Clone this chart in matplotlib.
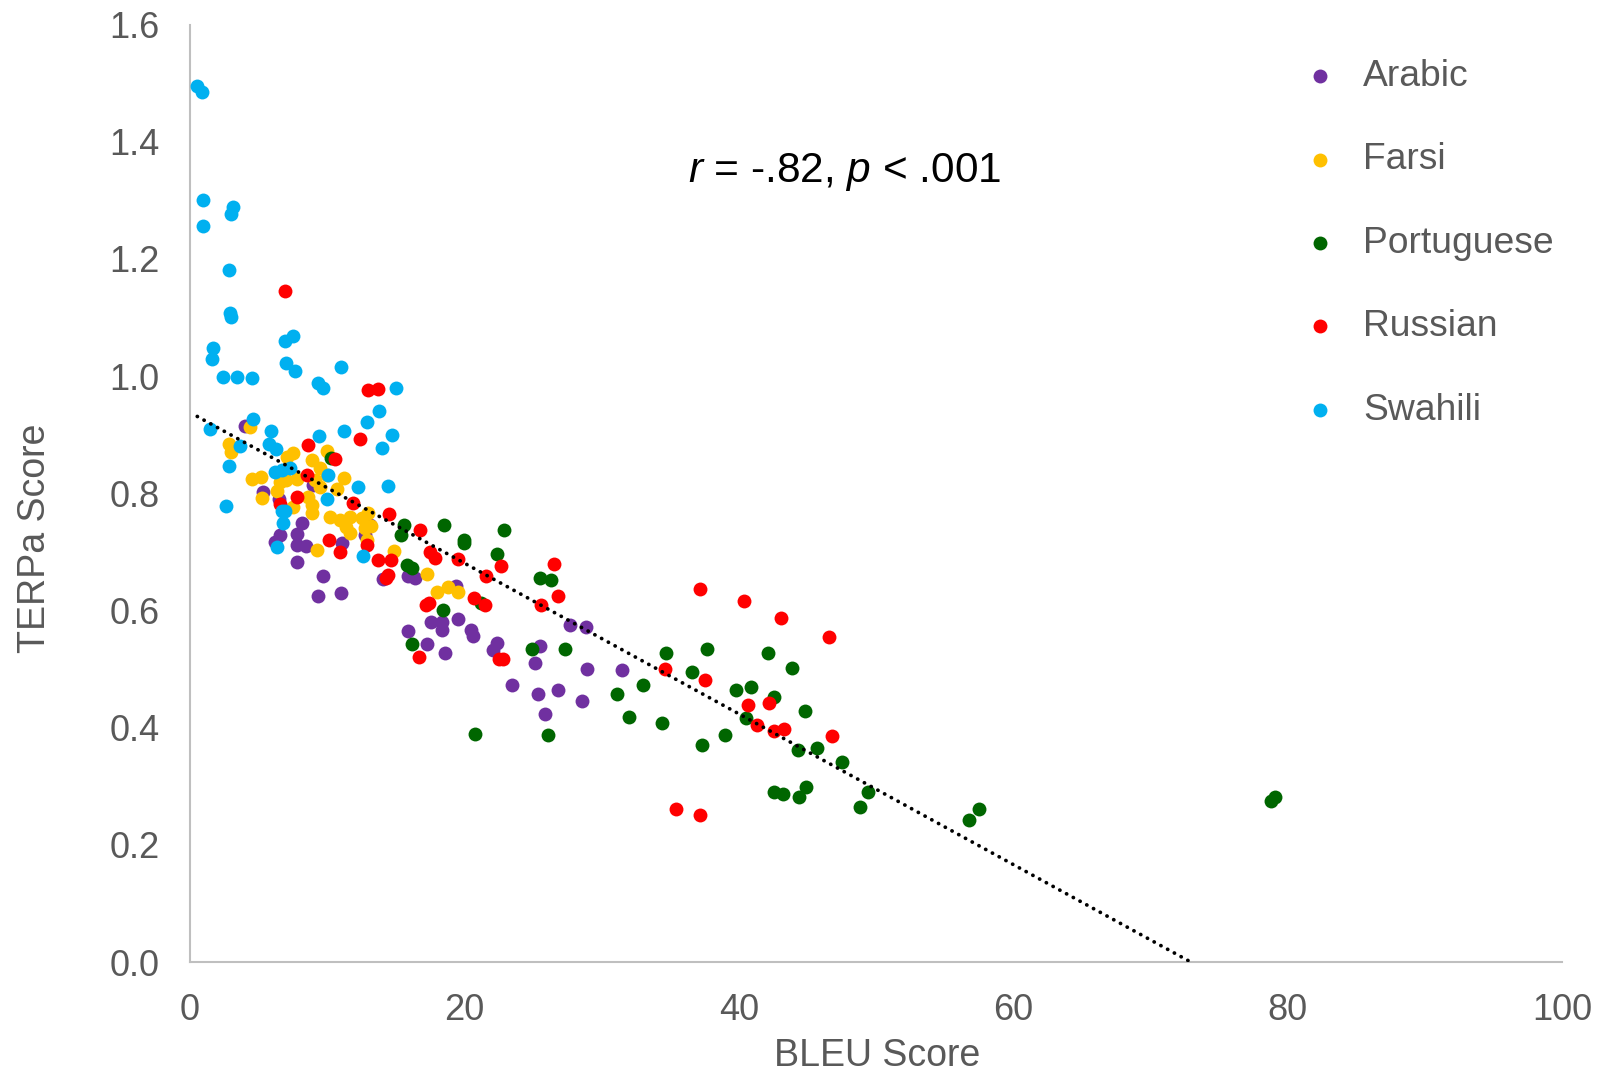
import matplotlib
matplotlib.use("Agg")
import matplotlib.pyplot as plt
import numpy as np

plt.rcParams['font.family'] = ['Liberation Sans', 'DejaVu Sans']
plt.rcParams['mathtext.fontset'] = 'custom'
plt.rcParams['mathtext.rm'] = 'Liberation Sans'
plt.rcParams['mathtext.it'] = 'Liberation Sans:italic'

# ---------------- data (BLEU, TERPa) ----------------
arabic_x = [4.0, 5.34, 6.5, 9.0, 8.14, 6.56, 7.82, 6.2, 7.78, 8.45, 7.78, 13.1, 12.76, 11.1,
            9.67, 9.33, 11.0, 14.1, 16.2, 15.9, 16.4, 19.4, 17.6, 18.35, 18.35, 19.56, 20.46,
            20.6, 15.9, 17.3, 18.6, 22.35, 22.06, 25.5, 25.15, 27.7, 28.84, 28.9, 31.5, 23.5,
            25.4, 26.8, 28.6, 25.9]
arabic_y = [0.915, 0.803, 0.79, 0.814, 0.75, 0.729, 0.73, 0.717, 0.712, 0.71, 0.683, 0.746, 0.729, 0.716,
            0.659, 0.625, 0.629, 0.653, 0.658, 0.659, 0.655, 0.642, 0.581, 0.581, 0.567, 0.585, 0.567,
            0.557, 0.565, 0.542, 0.527, 0.544, 0.533, 0.54, 0.51, 0.576, 0.572, 0.5, 0.498, 0.472,
            0.458, 0.465, 0.445, 0.423]

farsi_x = [4.37, 2.87, 2.97, 7.53, 7.05, 4.5, 5.17, 5.27, 6.32, 6.56, 7.0, 7.78, 7.53, 9.28,
           8.87, 9.96, 9.48, 9.96, 9.1, 8.62, 8.87, 8.87, 9.48, 11.2, 10.7, 10.2, 10.9, 11.66,
           11.4, 11.66, 12.5, 12.76, 13.0, 12.9, 13.2, 14.9, 17.25, 18.0, 18.8, 19.5]
farsi_y = [0.914, 0.885, 0.871, 0.869, 0.862, 0.824, 0.828, 0.792, 0.804, 0.82, 0.823, 0.824, 0.777, 0.703,
           0.856, 0.873, 0.843, 0.831, 0.823, 0.794, 0.78, 0.766, 0.811, 0.826, 0.808, 0.76, 0.754, 0.76,
           0.743, 0.733, 0.757, 0.74, 0.766, 0.72, 0.744, 0.702, 0.663, 0.631, 0.64, 0.632]

portuguese_x = [10.3, 15.6, 15.4, 18.5, 20.0, 20.0, 22.9, 22.35, 15.8, 16.2, 25.5, 26.3, 18.46,
                21.2, 16.16, 24.9, 27.3, 31.1, 32.0, 20.8, 26.1, 34.7, 37.66, 42.1, 43.9, 36.6,
                33.0, 39.8, 40.9, 42.6, 44.8, 34.4, 40.5, 39.0, 37.3, 44.3, 45.7, 47.5, 42.6,
                43.2, 44.9, 44.4, 49.4, 48.8, 57.5, 56.8, 78.8, 79.1]
portuguese_y = [0.861, 0.746, 0.729, 0.746, 0.721, 0.716, 0.738, 0.697, 0.678, 0.672, 0.655, 0.652, 0.601,
                0.612, 0.543, 0.535, 0.534, 0.458, 0.419, 0.389, 0.387, 0.528, 0.534, 0.527, 0.502, 0.495,
                0.473, 0.465, 0.469, 0.453, 0.428, 0.408, 0.416, 0.387, 0.37, 0.361, 0.365, 0.341, 0.29,
                0.286, 0.298, 0.281, 0.29, 0.265, 0.261, 0.242, 0.275, 0.282]

russian_x = [6.95, 13.0, 13.7, 8.62, 10.57, 12.4, 8.5, 7.78, 6.56, 11.9, 14.5, 10.15, 10.9, 12.9,
             13.7, 14.65, 14.45, 14.3, 16.76, 17.5, 17.86, 19.5, 22.7, 26.5, 21.55, 17.2, 17.45,
             20.7, 21.5, 26.8, 25.56, 16.7, 22.5, 22.8, 37.2, 40.4, 43.1, 46.6, 34.6, 37.5, 40.7,
             42.2, 41.3, 42.6, 43.3, 46.8, 35.4, 37.2]
russian_y = [1.145, 0.976, 0.978, 0.882, 0.858, 0.893, 0.831, 0.793, 0.782, 0.783, 0.764, 0.72, 0.699, 0.711,
             0.687, 0.686, 0.66, 0.655, 0.737, 0.7, 0.69, 0.688, 0.676, 0.68, 0.658, 0.609, 0.613,
             0.622, 0.61, 0.625, 0.609, 0.52, 0.517, 0.518, 0.636, 0.617, 0.588, 0.555, 0.5, 0.481, 0.439,
             0.442, 0.404, 0.394, 0.398, 0.385, 0.261, 0.251]

swahili_x = [0.49, 0.85, 0.92, 3.1, 2.97, 0.97, 2.87, 2.9, 2.99, 1.7, 1.58, 6.92, 7.48, 7.0, 7.65,
             2.38, 3.45, 4.5, 11.0, 9.3, 9.7, 15.0, 1.46, 4.57, 5.9, 3.64, 2.87, 2.62, 5.78, 6.27,
             7.29, 6.2, 6.68, 6.68, 6.9, 6.8, 6.32, 9.4, 10.08, 9.96, 12.27, 11.2, 12.9, 13.8,
             13.97, 14.75, 14.45, 12.6]
swahili_y = [1.495, 1.485, 1.30, 1.289, 1.277, 1.257, 1.181, 1.108, 1.101, 1.048, 1.029, 1.06, 1.068, 1.023, 1.008,
             0.998, 0.999, 0.997, 1.015, 0.989, 0.98, 0.979, 0.91, 0.926, 0.907, 0.881, 0.847, 0.779, 0.885, 0.875,
             0.843, 0.837, 0.839, 0.769, 0.769, 0.75, 0.709, 0.897, 0.832, 0.791, 0.811, 0.907, 0.922, 0.941,
             0.877, 0.9, 0.813, 0.693]

series_names = ["Arabic", "Farsi", "Portuguese", "Russian", "Swahili"]
series_colors = ["#7030A0", "#FFC000", "#006600", "#FF0000", "#00B0F0"]

# linear trendline
trend_intercept = 0.938
trend_slope = -0.01286
trend_x_start = 0.53

x_ticks = [0, 20, 40, 60, 80, 100]
y_ticks = [0.0, 0.2, 0.4, 0.6, 0.8, 1.0, 1.2, 1.4, 1.6]
annotation = r"$r$ = -.82, $p$ < .001"

# ---------------- plot ----------------
W, H = 1608, 1076
fig = plt.figure(figsize=(W / 100, H / 100), dpi=100)
ax = fig.add_axes([190 / W, 1 - 962 / H, 1372 / W, (962 - 24.6) / H])

gray = "#595959"
xs = [arabic_x, farsi_x, portuguese_x, russian_x, swahili_x]
ys = [arabic_y, farsi_y, portuguese_y, russian_y, swahili_y]
for xv, yv, name, col in zip(xs, ys, series_names, series_colors):
    ax.scatter(xv, yv, s=100, color=col, label=name, linewidths=0, zorder=3)

x_end = -trend_intercept / trend_slope
tx = np.array([trend_x_start, x_end])
ax.plot(tx, trend_intercept + trend_slope * tx, color="black", lw=2.7,
        linestyle=(0, (0.05, 2.0)), dash_capstyle="round", zorder=4)

ax.set_xlim(0, 100)
ax.set_ylim(0, 1.6)
ax.set_xticks(x_ticks)
ax.set_yticks(y_ticks)
ax.set_xticklabels([str(v) for v in x_ticks])
ax.set_yticklabels([f"{v:.1f}" for v in y_ticks])
ax.tick_params(length=0, labelsize=26, labelcolor=gray)
ax.tick_params(axis="x", pad=22)
ax.tick_params(axis="y", pad=22)
for side in ["top", "right"]:
    ax.spines[side].set_visible(False)
for side in ["left", "bottom"]:
    ax.spines[side].set_color("#BFBFBF")
    ax.spines[side].set_linewidth(1.5)

ax.set_xlabel("BLEU Score", fontsize=27, color=gray)
ax.set_ylabel("TERPa Score", fontsize=27, color=gray)
ax.xaxis.set_label_coords(0.5007, -0.100)
ax.xaxis.label.set_va("center")
ax.yaxis.set_label_coords(-0.113, 0.452)
ax.yaxis.label.set_va("center")

ax.text(0.477, 0.832, annotation, transform=ax.transAxes, fontsize=30.5,
        ha="center", va="baseline", color="black")

leg = ax.legend(loc="upper left", bbox_to_anchor=(1301.5 / W, 1 - 59 / H),
                bbox_transform=fig.transFigure, frameon=False, fontsize=26.8,
                handlelength=1.0, handletextpad=0.66, labelspacing=1.30,
                borderpad=0, borderaxespad=0, markerscale=1.0, scatterpoints=1)
for t in leg.get_texts():
    t.set_color(gray)

fig.savefig("out.png", dpi=100)
